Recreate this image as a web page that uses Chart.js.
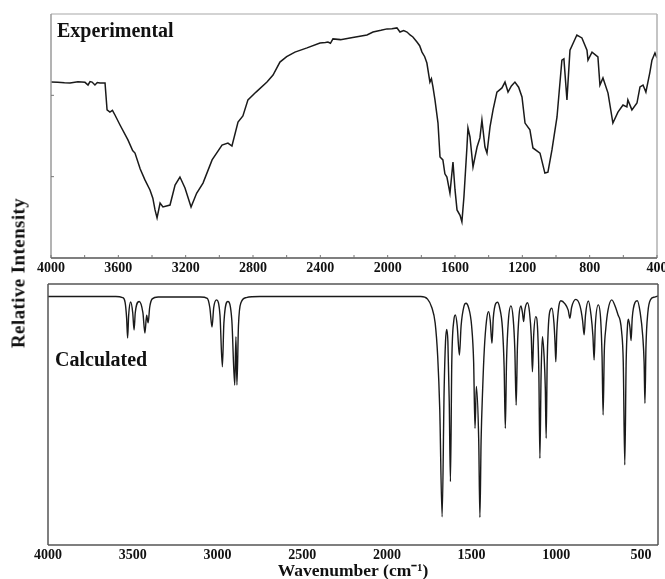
<!DOCTYPE html>
<html lang="en">
<head>
<meta charset="UTF-8">
<title>IR spectra: experimental vs calculated</title>
<script src="https://cdn.jsdelivr.net/npm/chart.js"></script>
<style>
    html, body {
        margin: 0;
        padding: 0;
        background: #fff;
        width: 665px;
        height: 579px;
        overflow: hidden;
        font-family: "Liberation Serif", "Times New Roman", serif;
    }
    .panel { position: absolute; left: 0; width: 665px; }
    #topBox { top: 0; height: 285px; }
    #botBox { top: 270px; height: 312px; }
    .tag {
        position: absolute;
        font-weight: bold;
        font-size: 20px;
        line-height: 20px;
        color: #111;
        white-space: nowrap;
    }
    #yTitle {
        position: absolute;
        left: 18px;
        top: 273px;
        font-weight: bold;
        font-size: 19px;
        line-height: 19px;
        letter-spacing: 0.4px;
        color: #111;
        white-space: nowrap;
        transform: translate(-50%, -50%) rotate(-90deg);
    }
</style>
</head>
<body>
<div class="panel" id="topBox"><canvas id="expChart"></canvas></div>
<div class="panel" id="botBox"><canvas id="calcChart"></canvas></div>
<div class="tag" style="left:57px; top:20px;">Experimental</div>
<div class="tag" style="left:55px; top:349px;">Calculated</div>
<div id="yTitle">Relative Intensity</div>

<script>
// experimental spectrum (wavenumber in cm-1, relative intensity 0-100)
const expWavenumber = [4000, 3960, 3920, 3887, 3840, 3798, 3780, 3768, 3756, 3739, 3725, 3709, 3679, 3667, 3650,
    3635, 3620, 3590, 3543, 3515, 3501, 3470, 3442, 3412, 3395, 3382, 3370, 3352, 3335, 3293, 3263, 3234, 3204,
    3168, 3135, 3097, 3043, 2984, 2949, 2925, 2889, 2860, 2830, 2782, 2717, 2681, 2640, 2600, 2551, 2479, 2402,
    2370, 2355, 2340, 2325, 2280, 2224, 2123, 2087, 2040, 2004, 1975, 1945, 1927, 1905, 1885, 1867, 1850, 1826,
    1810, 1796, 1780, 1767, 1749, 1740, 1731, 1719, 1701, 1689, 1672, 1660, 1648, 1630, 1612, 1600, 1588, 1570,
    1559, 1547, 1529, 1523, 1511, 1493, 1469, 1452, 1440, 1422, 1410, 1392, 1374, 1351, 1321, 1303, 1285, 1265,
    1244, 1222, 1202, 1184, 1155, 1137, 1095, 1066, 1048, 1024, 994, 965, 953, 935, 917, 876, 846, 816, 810, 786,
    751, 739, 721, 691, 662, 632, 602, 579, 573, 549, 519, 501, 483, 466, 442, 430, 412, 400];
const expIntensity = [72.1, 72.0, 71.8, 71.7, 72.2, 72.0, 70.9, 72.3, 72.1, 70.9, 71.9, 71.7, 71.7, 60.7, 59.8,
    60.5, 58.6, 54.5, 48.4, 44.0, 43.0, 36.5, 32.0, 27.9, 24.5, 19.7, 16.4, 22.5, 20.9, 21.7, 29.9, 33.2, 28.7,
    20.9, 26.5, 30.7, 40.2, 46.3, 47.1, 45.9, 55.7, 58.2, 64.8, 68.0, 72.1, 75.0, 80.3, 82.5, 84.4, 86.1, 88.1,
    88.3, 88.5, 88.0, 89.8, 89.5, 90.2, 91.4, 92.6, 93.3, 93.9, 94.0, 94.3, 92.6, 93.2, 92.6, 91.4, 90.6, 88.5,
    87.0, 84.4, 82.5, 79.9, 72.1, 73.5, 70.1, 64.8, 55.3, 41.4, 40.2, 34.5, 33.2, 26.6, 39.3, 28.0, 19.7, 17.5,
    14.8, 25.0, 45.5, 53.3, 49.6, 37.3, 45.5, 49.2, 56.6, 45.5, 43.0, 53.7, 60.7, 68.0, 69.7, 72.1, 68.0, 70.5,
    72.1, 70.0, 66.0, 55.3, 52.5, 45.1, 43.0, 34.8, 35.2, 44.3, 57.8, 81.1, 81.6, 64.8, 85.2, 91.4, 90.2, 85.2, 81.1, 84.4,
    82.4, 70.9, 73.8, 67.6, 55.3, 59.8, 62.7, 61.9, 64.8, 60.7, 63.5, 70.1, 70.9, 68.0, 76.2, 81.1, 84.0, 82.0];

// calculated spectrum
const calcWavenumber = [4000, 3600, 3560, 3545, 3536, 3530, 3524, 3512, 3500, 3492, 3485, 3462, 3440, 3428, 3418,
    3409, 3400, 3385, 3350, 3100, 3060, 3045, 3032, 3022, 3005, 2985, 2971, 2962, 2938, 2915, 2898, 2891, 2885,
    2876, 2860, 2830, 2750, 1800, 1760, 1735, 1715, 1700, 1688, 1674, 1662, 1654, 1647, 1640, 1632, 1625, 1617,
    1605, 1596, 1585, 1572, 1562, 1545, 1533, 1518, 1500, 1488, 1480, 1472, 1458, 1451, 1444, 1435, 1425, 1412,
    1400, 1390, 1380, 1372, 1358, 1347, 1335, 1318, 1308, 1301, 1294, 1283, 1268, 1255, 1245, 1237, 1230, 1220,
    1209, 1200, 1193, 1186, 1170, 1158, 1148, 1141, 1134, 1121, 1110, 1103, 1097, 1090, 1082, 1072, 1065, 1060,
    1054, 1048, 1040, 1026, 1014, 1008, 1003, 997, 985, 973, 950, 930, 920, 910, 885, 860, 845, 836, 828, 811,
    795, 784, 777, 770, 752, 738, 730, 724, 717, 708, 695, 673, 650, 635, 624, 615, 605, 596, 588, 580, 575, 565,
    559, 552, 535, 522, 505, 490, 482, 477, 471, 460, 443, 420, 400];
const calcIntensity = [95.2, 95.2, 94.8, 93.0, 87.0, 79.3, 88.0, 93.1, 89.0, 82.4, 89.0, 93.3, 89.0, 81.2, 88.0,
    85.1, 91.0, 94.3, 95.0, 95.0, 94.5, 91.0, 83.5, 91.0, 93.9, 88.0, 68.3, 85.0, 93.3, 86.0, 61.3, 79.8, 61.3,
    84.0, 93.0, 94.8, 95.2, 95.2, 94.2, 91.0, 85.0, 72.0, 52.0, 10.8, 60.0, 78.0, 82.6, 78.0, 55.0, 24.3, 70.0,
    86.0, 88.1, 84.0, 72.8, 84.0, 91.5, 92.6, 91.0, 84.0, 70.0, 44.7, 60.7, 40.0, 10.6, 40.0, 59.4, 75.0, 86.0,
    89.4, 86.0, 77.3, 87.0, 92.5, 93.0, 91.0, 83.0, 68.0, 44.7, 70.0, 86.0, 91.6, 87.0, 75.0, 53.6, 75.0, 88.0,
    91.6, 89.0, 85.6, 90.0, 92.8, 89.0, 80.0, 66.4, 80.0, 87.5, 82.0, 65.0, 33.2, 65.0, 79.8, 72.0, 60.0, 40.9,
    70.0, 82.4, 89.0, 90.7, 85.0, 78.0, 70.2, 82.0, 91.5, 93.6, 92.5, 90.0, 86.9, 91.0, 94.1, 91.5, 86.0, 80.5, 88.0, 93.5,
    88.0, 80.0, 70.9, 84.0, 92.0, 86.0, 72.0, 49.8, 74.0, 83.0, 90.0, 93.9, 91.0, 88.0, 86.2, 82.0, 70.0, 30.7, 70.0, 84.0, 86.5, 83.0,
    78.3, 87.0, 93.0, 93.6, 89.0, 80.0, 70.0, 54.3, 76.0, 89.0, 94.1, 95.0, 95.4];

// axis ticks
const expXTicks = [4000, 3800, 3600, 3400, 3200, 3000, 2800, 2600, 2400, 2200, 2000, 1800, 1600, 1400, 1200,
    1000, 800, 600, 400];
const expXLabelStep = 400;
const expYTicks = [100 / 3, 200 / 3];
const calcXTicks = [4000, 3500, 3000, 2500, 2000, 1500, 1000, 500];

const FONT = "'Liberation Serif', 'Times New Roman', serif";

const toPoints = (xs, ys) => xs.map((x, i) => ({ x: x, y: ys[i] }));

// draws the box around the plot area and the small inward ticks
const frame = {
    id: 'frame',
    afterDatasetsDraw(chart, args, opts) {
        const { ctx, chartArea: a, scales } = chart;
        ctx.save();
        ctx.lineWidth = opts.width;
        const side = (c, x1, y1, x2, y2) => {
            ctx.strokeStyle = c;
            ctx.beginPath();
            ctx.moveTo(x1, y1);
            ctx.lineTo(x2, y2);
            ctx.stroke();
        };
        side(opts.top, a.left, a.top, a.right, a.top);
        side(opts.right, a.right, a.top, a.right, a.bottom);
        side(opts.left, a.left, a.top, a.left, a.bottom);
        side(opts.bottom, a.left, a.bottom, a.right, a.bottom);
        if (opts.tickLen) {
            ctx.lineWidth = 1;
            scales.x.ticks.forEach(t => {
                const px = scales.x.getPixelForValue(t.value);
                side(opts.tickColor, px, a.bottom, px, a.bottom - opts.tickLen);
            });
            (opts.yTicks || []).forEach(v => {
                const py = scales.y.getPixelForValue(v);
                side(opts.tickColor, a.left, py, a.left + opts.tickLen, py);
            });
        }
        ctx.restore();
    }
};

function makeChart(id, points, cfg) {
    return new Chart(document.getElementById(id).getContext('2d'), {
        type: 'line',
        data: {
            datasets: [{
                data: points,
                borderColor: '#1a1a1a',
                borderWidth: cfg.lineWidth,
                pointRadius: 0,
                fill: false,
                tension: cfg.tension,
                cubicInterpolationMode: cfg.cubic ? 'monotone' : 'default'
            }]
        },
        options: {
            responsive: true,
            maintainAspectRatio: false,
            animation: false,
            layout: { padding: cfg.padding },
            scales: {
                x: {
                    type: 'linear',
                    reverse: true,
                    min: 400,
                    max: 4000,
                    grid: { display: false, drawTicks: false },
                    border: { display: false },
                    title: cfg.xTitle,
                    ticks: {
                        autoSkip: false,
                        maxRotation: 0,
                        padding: 2,
                        color: '#111',
                        font: { family: FONT, size: 14, weight: 'bold' },
                        callback: cfg.label
                    },
                    afterBuildTicks(s) {
                        s.ticks = cfg.ticks.map(v => ({ value: v }));
                    },
                    afterFit(s) {
                        s.height = cfg.xHeight;
                        s.paddingLeft = 0;
                        s.paddingRight = 0;
                    }
                },
                y: { display: false, min: 0, max: 100 }
            },
            plugins: {
                legend: { display: false },
                tooltip: { enabled: false },
                frame: cfg.frame
            }
        },
        plugins: [frame]
    });
}

makeChart('expChart', toPoints(expWavenumber, expIntensity), {
    lineWidth: 1.5,
    tension: 0,
    cubic: false,
    padding: { left: 51, right: 8, top: 14, bottom: 0 },
    ticks: expXTicks,
    label: v => (v % expXLabelStep === 0 ? String(v) : ''),
    xHeight: 27,
    xTitle: { display: false },
    frame: { width: 1.5, top: '#c4c4c4', right: '#b0b0b0', left: '#9a9a9a', bottom: '#555',
             tickLen: 3, tickColor: '#777', yTicks: expYTicks }
});

makeChart('calcChart', toPoints(calcWavenumber, calcIntensity), {
    lineWidth: 1.4,
    tension: 0.4,
    cubic: true,
    padding: { left: 48, right: 7, top: 14, bottom: 0 },
    ticks: calcXTicks,
    label: v => String(v),
    xHeight: 37,
    xTitle: {
        display: true,
        text: 'Wavenumber (cm\u207B\u00B9)',
        color: '#111',
        padding: { top: 0, bottom: 0 },
        font: { family: FONT, size: 17.5, weight: 'bold' }
    },
    frame: { width: 1.5, top: '#555', right: '#555', left: '#555', bottom: '#555', tickLen: 0 }
});
</script>
</body>
</html>
